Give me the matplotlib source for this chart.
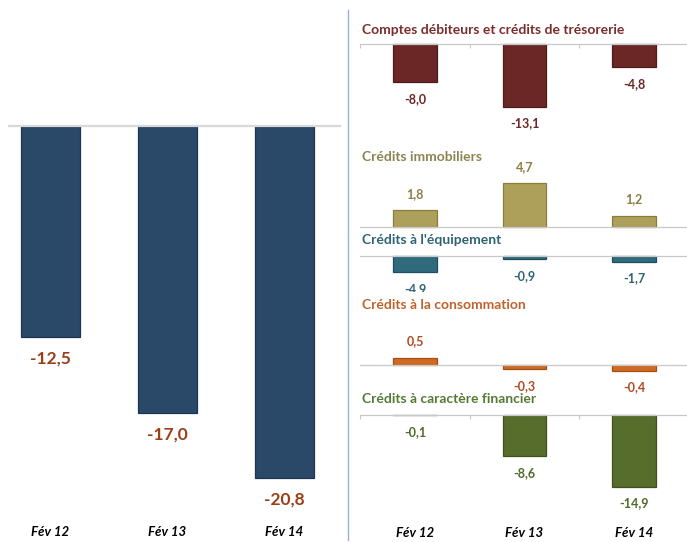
import matplotlib.pyplot as plt
from matplotlib.lines import Line2D

W, H = 687, 542

months = ["Fév 12", "Fév 13", "Fév 14"]
total = [-12.5, -17.0, -20.8]
comptes_debiteurs = [-8.0, -13.1, -4.8]
immobiliers = [1.8, 4.7, 1.2]
equipement = [-4.9, -0.9, -1.7]
consommation = [0.5, -0.3, -0.4]
caractere_financier = [-0.1, -8.6, -14.9]

plt.rcParams['font.family'] = ['Lato', 'DejaVu Sans']


def fmt(v):
  return f"{v:.1f}".replace(".", ",")


def px_axes(fig, x0, x1, y0, y1):
  return fig.add_axes([x0 / W, 1 - y1 / H, (x1 - x0) / W, (y1 - y0) / H])


def bar_panel(fig, values, box, base, scale, xlim, width, color, edge,
              label_color, label_size, gap, ticks=False, white=False, line='#c8c8c8', lw=0.9):
  x0, x1, y0, y1 = box
  ax = px_axes(fig, x0, x1, y0, y1)
  if white:
    ax.set_facecolor('white')
  else:
    ax.patch.set_visible(False)
  ax.set_xlim(*xlim)
  ax.set_ylim(-(y1 - base) / scale, (base - y0) / scale)
  ax.bar(range(len(values)), values, width, color=color, edgecolor=edge, linewidth=0.9, zorder=2)
  for name in ['top', 'right', 'left']:
    ax.spines[name].set_visible(False)
  ax.spines['bottom'].set_position(('data', 0))
  ax.spines['bottom'].set_color(line)
  ax.spines['bottom'].set_linewidth(lw)
  ax.set_yticks([])
  ax.set_xticks([])
  if ticks:
    ax.set_xticks([-0.5, 0.5, 1.5], minor=True)
    ax.tick_params(which='minor', length=3, color=line, width=0.8)
  else:
    ax.tick_params(which='both', length=0)
  for i, v in enumerate(values):
    off = gap if v > 0 else -gap
    ax.annotate(fmt(v), (i, v), xytext=(0, off), textcoords='offset points',
                ha='center', va='center', fontsize=label_size, fontweight='bold',
                color=label_color)
  return ax


def month_labels(ax):
  for i, m in enumerate(months):
    ax.text(i, 0, m, transform=ax.get_xaxis_transform(), ha='center', va='center',
            fontsize=9.5, fontweight='bold', fontstyle='italic', color='black')


fig = plt.figure(figsize=(W / 100, H / 100), dpi=100)

# left: total
left = bar_panel(fig, total, (9, 340, 10, 532), 126, 16.9, (-0.355, 2.474), 0.504,
                 '#2a4868', '#1e3450', '#9b3e17', 12.5, 15.5, line='#d9d9d9', lw=1.6)
month_labels(left)

# separator
fig.add_artist(Line2D([348 / W, 348 / W], [1 - 540 / H, 1 - 10 / H], color='#95b3d7', lw=1))

rx = (-0.502, 2.484)
rw = 0.40
panels = [
  ("Comptes débiteurs et crédits de trésorerie", comptes_debiteurs, (360, 687, 40, 140), 44, 4.8,
   '#6b2626', '#4e1a1a', '#6b2626', '#7b2c2c', 30, True, False),
  ("Crédits immobiliers", immobiliers, (360, 687, 150, 235), 227, 9.3,
   '#ada05a', '#8a7d3c', '#8a7f45', '#8c8450', 157, False, False),
  ("Crédits à l'équipement", equipement, (360, 687, 245, 300), 256, 3.3,
   '#2f6b7c', '#1f4e5c', '#2e6474', '#2e6474', 240, False, False),
  ("Crédits à la consommation", consommation, (360, 687, 292, 395), 365, 14,
   '#d06a22', '#a34f14', '#b04a22', '#c0622b', 305, False, True),
  ("Crédits à caractère financier", caractere_financier, (360, 687, 405, 533), 415, 4.8,
   '#566d2c', '#3e5020', '#4f6b2a', '#557a35', 399, True, False),
]

for title, vals, box, base, scale, col, edge, lab, tcol, ty, ticks, white in panels:
  ax = bar_panel(fig, vals, box, base, scale, rx, rw, col, edge, lab, 9, 12, ticks=ticks, white=white)
  fig.text(362 / W, 1 - ty / H, title, ha='left', va='center', fontsize=10,
           fontweight='bold', color=tcol)

month_labels(ax)

fig.savefig('out.png', dpi=100)
